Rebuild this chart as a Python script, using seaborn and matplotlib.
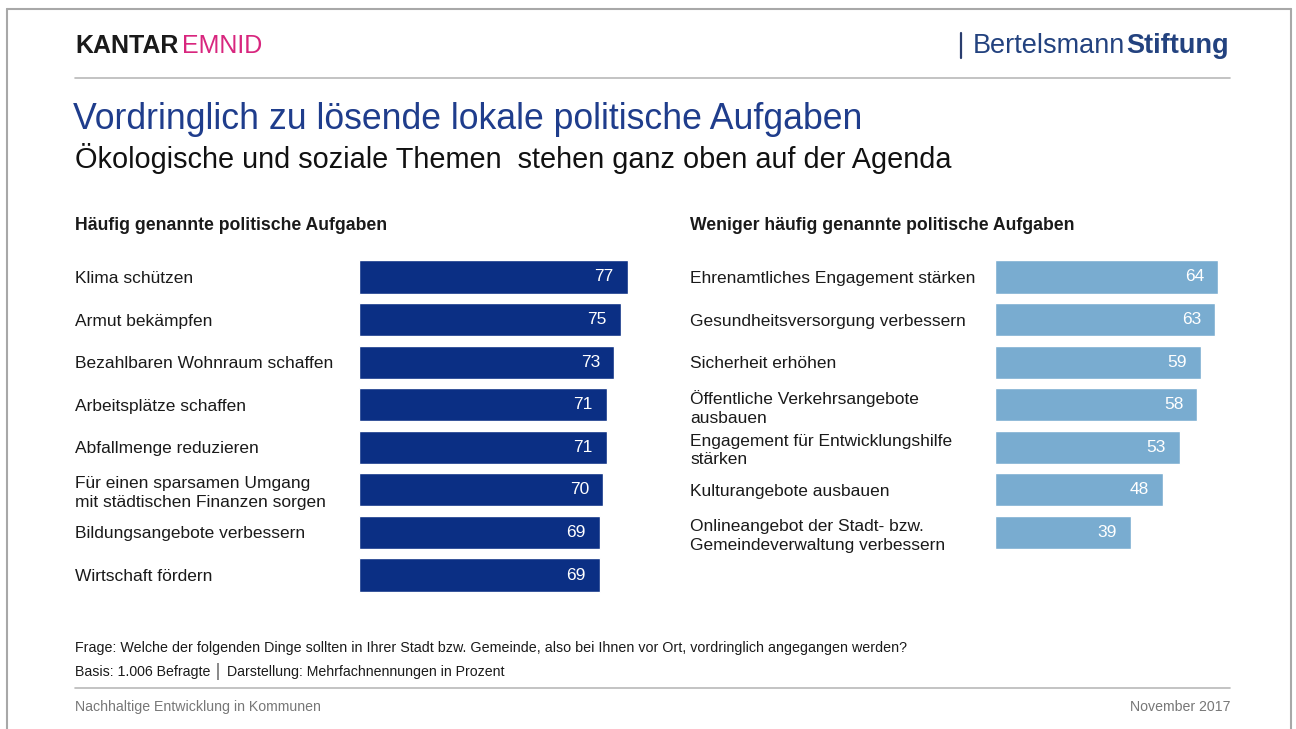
import matplotlib
matplotlib.use("Agg")
import matplotlib.pyplot as plt
from matplotlib.lines import Line2D
import seaborn as sns
import pandas as pd

# Frequently named tasks
top_tasks = [
    "Klima schützen",
    "Armut bekämpfen",
    "Bezahlbaren Wohnraum schaffen",
    "Arbeitsplätze schaffen",
    "Abfallmenge reduzieren",
    "Für einen sparsamen Umgang\nmit städtischen Finanzen sorgen",
    "Bildungsangebote verbessern",
    "Wirtschaft fördern",
]
top_values = [77, 75, 73, 71, 71, 70, 69, 69]

# Less frequently named tasks
other_tasks = [
    "Ehrenamtliches Engagement stärken",
    "Gesundheitsversorgung verbessern",
    "Sicherheit erhöhen",
    "Öffentliche Verkehrsangebote\nausbauen",
    "Engagement für Entwicklungshilfe\nstärken",
    "Kulturangebote ausbauen",
    "Onlineangebot der Stadt- bzw.\nGemeindeverwaltung verbessern",
]
other_values = [64, 63, 59, 58, 53, 48, 39]

DARK = "#0b2f84"
LIGHT = "#79acd0"
TITLE_BLUE = "#1f3d8c"
GREY = "#b9b9b9"

sns.set_theme(style="white")
plt.rcParams["font.family"] = ["Liberation Sans", "DejaVu Sans"]

W, H, DPI = 1296, 729, 100
fig = plt.figure(figsize=(W / DPI, H / DPI), dpi=DPI)
fig.patch.set_facecolor("white")


def fx(x):
    return x / W


def fy(y):
    return 1 - y / H


PX_PER_UNIT = 3.49
XMAX = 80
ax_top, ax_bot = 255.7, 596.3


def panel(x0, tasks, values, color, label_x):
    ax = fig.add_axes([fx(x0), fy(ax_bot), XMAX * PX_PER_UNIT / W, (ax_bot - ax_top) / H])
    df = pd.DataFrame({"task": tasks, "value": values})
    sns.barplot(data=df, x="value", y="task", orient="h", color=color,
                saturation=1, width=0.78, ax=ax, order=tasks)
    ax.set_xlim(0, XMAX)
    ax.set_ylim(7.5, -0.5)
    ax.set_xlabel("")
    ax.set_ylabel("")
    ax.set_xticks([])
    for s in ax.spines.values():
        s.set_visible(False)
    pad_pt = (x0 - label_x) * 72 / DPI
    ax.tick_params(axis="y", length=0, pad=pad_pt)
    for t in ax.get_yticklabels():
        t.set_horizontalalignment("left")
        t.set_fontsize(12.5)
        t.set_color("#1a1a1a")
        t.set_linespacing(1.3)
    ax.set_facecolor("none")
    labels = ax.bar_label(ax.containers[0], padding=-10, color="white",
                          fontsize=12.5)
    for t in labels:
        t.set_horizontalalignment("right")
    return ax


panel(359, top_tasks, top_values, DARK, 75)
panel(995, other_tasks, other_values, LIGHT, 690)

# Section headers
fig.text(fx(75), fy(226), "Häufig genannte politische Aufgaben", fontsize=12.7,
         fontweight="bold", va="center", color="#1a1a1a")
fig.text(fx(690), fy(226), "Weniger häufig genannte politische Aufgaben", fontsize=12.7,
         fontweight="bold", va="center", color="#1a1a1a")

# Titles
fig.text(fx(73), fy(129), "Vordringlich zu lösende lokale politische Aufgaben",
         fontsize=25.7, color=TITLE_BLUE, va="baseline")
fig.text(fx(75), fy(168), "Ökologische und soziale Themen  stehen ganz oben auf der Agenda",
         fontsize=20.8, color="#111111", va="baseline")

renderer = fig.canvas.get_renderer()


def text_after(first, x_gap, s, **kw):
    bb = first.get_window_extent(renderer=renderer)
    x = bb.x1 + x_gap
    return fig.text(x / W, first.get_position()[1], s, **kw)


# Header logos
kantar = fig.text(fx(75), fy(46), "KANTAR", fontsize=18, fontweight="bold",
                  color="#1a1a1a", va="center")
text_after(kantar, 4, "EMNID", fontsize=18, color="#d8267e", va="center")
fig.add_artist(Line2D([fx(961), fx(961)], [fy(33), fy(58)], color="#2a3d6e", lw=1.6))
bert = fig.text(fx(973), fy(46), "Bertelsmann", fontsize=19.5, color="#23427f", va="center")
text_after(bert, 1, "Stiftung", fontsize=19.5, fontweight="bold", color="#23427f", va="center")

# Rules
fig.add_artist(Line2D([fx(75), fx(1230)], [fy(78), fy(78)], color=GREY, lw=1.2))
fig.add_artist(Line2D([fx(75), fx(1230)], [fy(688), fy(688)], color=GREY, lw=1.2))

# Frame
frame_kw = dict(color="#a8a8a8", lw=1.5)
fig.add_artist(Line2D([fx(7), fx(1291)], [fy(9), fy(9)], **frame_kw))
fig.add_artist(Line2D([fx(7), fx(7)], [fy(9), fy(729)], **frame_kw))
fig.add_artist(Line2D([fx(1291), fx(1291)], [fy(9), fy(729)], **frame_kw))

# Notes
fig.text(fx(75), fy(648),
         "Frage: Welche der folgenden Dinge sollten in Ihrer Stadt bzw. Gemeinde, also bei Ihnen vor Ort, vordringlich angegangen werden?",
         fontsize=10.3, color="#1a1a1a", va="center")
fig.text(fx(75), fy(671), "Basis: 1.006 Befragte │ Darstellung: Mehrfachnennungen in Prozent",
         fontsize=10.2, color="#1a1a1a", va="center")
fig.text(fx(75), fy(707), "Nachhaltige Entwicklung in Kommunen", fontsize=10.2,
         color="#777777", va="center")
fig.text(fx(1230), fy(707), "November 2017", fontsize=10.2,
         color="#777777", va="center", ha="right")

fig.savefig("out.png", dpi=DPI)
